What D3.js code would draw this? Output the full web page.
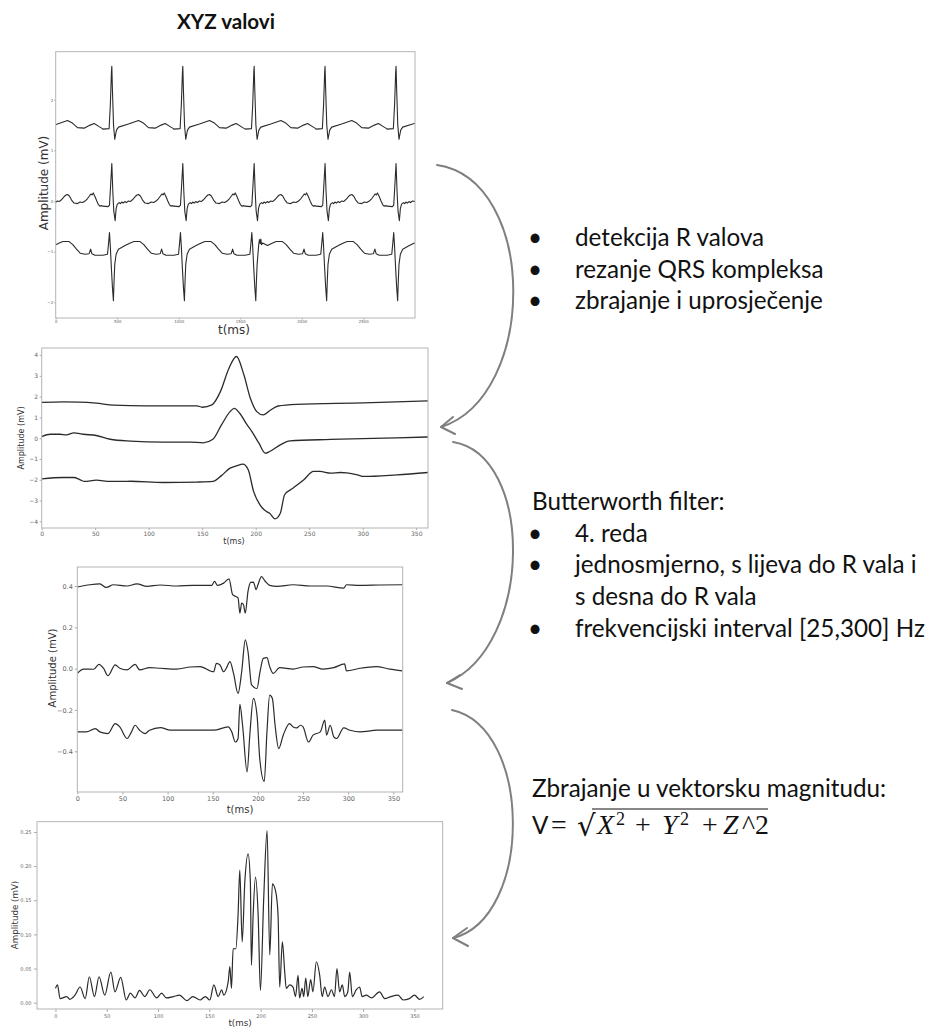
<!DOCTYPE html>
<meta charset="utf-8">
<style>
body { margin: 0; background: #fff; }
svg { display: block; }
.frame { fill: none; stroke: #b3b3b3; stroke-width: 1; }
.trace { fill: none; stroke: #2b2b2b; stroke-width: 1.2; stroke-linejoin: round; }
.tick text { fill: #666; font-family: "DejaVu Sans", sans-serif; }
.tick line { stroke: #aaa; }
.axlabel { font-family: "DejaVu Sans", sans-serif; fill: #333; text-anchor: middle; }
.arrow { fill: none; stroke: #7f7f7f; stroke-width: 2; stroke-linecap: round; stroke-linejoin: round; }
.note { font-family: Lato, "Open Sans", sans-serif; fill: #111; }
.math { font-family: "Liberation Serif", serif; fill: #111; }
</style>
<svg width="934" height="1028"></svg>
<script src="https://d3js.org/d3.v7.min.js"></script>
<script>

// ---------- data (ms, mV) ----------
// panel 1: R-peak times of the raw recording, and one beat per lead
var rPeaks = [-121, 456, 1033, 1613, 2189, 2766];
var beatX = [[-73,1.42],[-22,1.43],[-12,1.9],[-3,2.55],[0,2.66],[5,2.2],[14,1.5],[24,1.22],[30,1.3],[38,1.40],[54,1.46],
  [135,1.52],[217,1.59],[257,1.54],[298,1.45],[352,1.44],[401,1.50],[434,1.53],[474,1.47],[501,1.43]];
var beatY = [[-73,-0.10],[-30,-0.11],[-19,-0.08],[-10,0.30],[0,0.74],[8,0.20],[16,-0.20],[27,-0.39],[35,-0.15],[45,-0.06],
  [60,-0.03],[70,-0.05],[80,-0.02],[92,-0.04],[105,-0.01],[118,-0.03],[135,0.0],[150,-0.01],[165,0.02],[180,0.06],[195,0.10],
  [205,0.12],[217,0.13],[232,0.10],[250,0.02],[270,-0.04],[298,-0.05],[320,-0.02],[340,-0.03],[360,0.0],[380,0.05],[395,0.10],
  [408,0.14],[416,0.12],[426,0.16],[440,0.09],[455,0.0],[468,-0.07],[480,-0.10],[495,-0.09],[501,-0.10]];
var beatZ = [[-73,-1.07],[-35,-1.05],[-27,-0.85],[-19,-0.62],[-12,-0.9],[-4,-1.3],[5,-1.70],[13,-1.97],[18,-1.6],[24,-1.25],
  [35,-1.05],[54,-0.95],[108,-0.88],[150,-0.83],[180,-0.80],[230,-0.80],[260,-0.86],[290,-0.95],[320,-1.03],[360,-1.05],
  [393,-1.04],[405,-0.95],[415,-1.04],[440,-1.07],[501,-1.07]];
var artifactZ = [[1650,-0.86],[1656,-0.76],[1662,-0.84],[1667,-0.75],[1673,-0.86],[1682,-0.83]];

// panel 2: averaged QRS complexes
var avgX = [[0,1.72],[20,1.75],[35,1.74],[51,1.69],[67,1.59],[98,1.56],[145,1.56],[150,1.49],[159,1.60],[167,2.24],[175,3.37],
  [182,3.93],[189,3.04],[195,1.92],[201,1.28],[207,1.12],[214,1.36],[221,1.55],[238,1.63],[301,1.70],[361,1.80]];
var avgY = [[0,0.08],[8,0.19],[17,0.19],[23,0.16],[30,0.26],[39,0.19],[51,0.13],[64,-0.05],[83,-0.14],[114,-0.19],[139,-0.19],
  [151,-0.22],[160,-0.05],[168,0.64],[176,1.28],[180,1.44],[185,1.20],[192,0.64],[196,0.35],[203,-0.24],[209,-0.72],[213,-0.64],
  [223,-0.32],[232,-0.13],[270,-0.06],[332,0.02],[361,0.06]];
var avgZ = [[0,-1.96],[20,-1.89],[30,-1.89],[36,-2.0],[40,-2.08],[51,-2.02],[64,-2.08],[76,-2.08],[83,-2.07],[114,-2.13],[145,-2.11],
  [160,-2.08],[168,-1.80],[176,-1.44],[182,-1.33],[188,-1.25],[193,-1.52],[198,-2.56],[204,-3.21],[210,-3.53],[213,-3.61],
  [218,-3.88],[223,-3.61],[227,-2.72],[235,-2.40],[245,-2.0],[254,-1.60],[260,-1.60],[270,-1.68],[279,-1.65],[285,-1.67],
  [295,-1.76],[301,-1.84],[332,-1.76],[361,-1.65]];

// panel 3: after Butterworth filtering
var filtX = [[0,0.395],[14,0.406],[25,0.41],[32,0.393],[40,0.406],[55,0.40],[66,0.41],[77,0.398],[92,0.405],[110,0.40],[128,0.403],
  [149,0.403],[152,0.423],[155,0.403],[162,0.414],[168,0.435],[172,0.358],[175,0.35],[178,0.342],[180,0.269],[182,0.317],
  [184,0.309],[186,0.269],[189,0.374],[192,0.418],[195,0.419],[198,0.382],[200,0.406],[204,0.445],[208,0.423],[213,0.403],
  [221,0.398],[239,0.406],[258,0.40],[276,0.40],[295,0.39],[298,0.406],[313,0.403],[335,0.405],[360,0.406]];
var filtY = [[0,-0.023],[7,-0.002],[18,-0.003],[24,0.021],[29,0.002],[34,-0.034],[42,0.018],[47,0.002],[55,-0.006],[64,0.021],
  [69,-0.006],[80,0.005],[92,0.002],[110,-0.002],[125,0.008],[136,0.01],[151,-0.015],[154,0.026],[158,0.018],[162,-0.015],
  [165,0.002],[169,0.034],[173,-0.023],[178,-0.12],[182,-0.015],[186,0.139],[189,0.083],[193,-0.079],[199,-0.096],[202,-0.023],
  [206,0.05],[210,0.053],[213,0.01],[217,-0.023],[224,0.005],[239,-0.002],[250,0.008],[261,0.01],[272,-0.002],[284,0.005],
  [296,0.023],[298,-0.011],[313,0.002],[331,0.01],[346,-0.002],[360,-0.011]];
var filtZ = [[0,-0.306],[10,-0.306],[20,-0.29],[25,-0.306],[34,-0.314],[42,-0.266],[47,-0.282],[55,-0.338],[60,-0.306],[64,-0.274],
  [69,-0.298],[75,-0.314],[80,-0.298],[92,-0.285],[103,-0.298],[128,-0.298],[151,-0.298],[167,-0.282],[171,-0.306],[175,-0.355],
  [178,-0.338],[180,-0.173],[183,-0.274],[188,-0.50],[191,-0.322],[195,-0.144],[199,-0.225],[202,-0.435],[207,-0.546],[210,-0.306],
  [213,-0.128],[216,-0.144],[219,-0.274],[223,-0.387],[228,-0.322],[235,-0.266],[239,-0.282],[243,-0.287],[247,-0.274],[250,-0.282],
  [256,-0.355],[261,-0.322],[269,-0.306],[274,-0.249],[276,-0.322],[280,-0.274],[284,-0.33],[287,-0.338],[295,-0.287],[302,-0.298],
  [313,-0.306],[332,-0.298],[360,-0.298]];

// panel 4: vector magnitude
var magV = [[0,0.021],[2,0.026],[4.5,0.006],[11,0.009],[14,0.005],[19,0.011],[24,0.023],[29,0.006],[33,0.038],[38,0.009],[42.5,0.038],
  [48,0.011],[54,0.045],[58,0.016],[63.6,0.037],[69,0.004],[73,0.014],[77.5,0.007],[82,0.018],[87,0.009],[92,0.019],[98.6,0.007],
  [103.5,0.014],[108,0.007],[115,0.009],[121,0.011],[128,0.003],[134,0.009],[141,0.004],[146,0.009],[150.5,0.004],[154.4,0.026],
  [158.6,0.009],[162,0.019],[164,0.011],[168.4,0.031],[170,0.053],[171.6,0.021],[173.2,0.079],[175.8,0.079],[178,0.128],
  [179.7,0.194],[182,0.089],[184.6,0.177],[187.8,0.218],[190,0.177],[191,0.055],[192.7,0.128],[195,0.184],[197.6,0.128],
  [199.8,0.018],[203,0.152],[206.3,0.252],[208.9,0.07],[211.5,0.174],[214.8,0.162],[217,0.128],[218.6,0.023],[221.2,0.089],
  [223.5,0.045],[225,0.021],[228.4,0.026],[231.6,0.023],[234,0.009],[236.5,0.04],[238,0.007],[240.4,0.021],[242,0.009],
  [244,0.036],[246,0.009],[248.8,0.034],[251,0.016],[254.3,0.06],[257.6,0.04],[260,0.009],[262.4,0.023],[265.7,0.009],
  [269,0.019],[272,0.009],[274.4,0.05],[277,0.016],[279.6,0.026],[282,0.009],[285,0.016],[286.8,0.045],[289.4,0.009],
  [293.3,0.019],[296.5,0.023],[299,0.009],[303,0.011],[308,0.007],[316,0.016],[321,0.006],[327,0.009],[334,0.011],
  [339,0.004],[345,0.006],[350,0.011],[355,0.005],[359,0.009]];

// tick values
var ticksRawT = [0, 500, 1000, 1500, 2000, 2500], ticksRawV = [-2, -1, 0, 1, 2];
var ticksQrsT = [0, 50, 100, 150, 200, 250, 300, 350], ticksAvgV = [-4, -3, -2, -1, 0, 1, 2, 3, 4];
var ticksFiltV = [-0.4, -0.2, 0.0, 0.2, 0.4], ticksMagV = [0, 0.05, 0.10, 0.15, 0.20, 0.25];

// text
var titleText = "XYZ valovi";
var stepsA = ["detekcija R valova", "rezanje QRS kompleksa", "zbrajanje i uprosječenje"];
var filterHead = "Butterworth filter:";
var filterItems = [["4. reda"], ["jednosmjerno, s lijeva do R vala i", "s desna do R vala"], ["frekvencijski interval [25,300] Hz"]];
var magHead = "Zbrajanje u vektorsku magnitudu:";

// ---------- build lead series for the raw recording ----------
function buildLead(beat, extra) {
  var pts = [];
  rPeaks.forEach(function(r) { beat.forEach(function(p) { pts.push([r + p[0], p[1]]); }); });
  if (extra) {
    var lo = d3.min(extra, function(d) { return d[0]; }) - 4, hi = d3.max(extra, function(d) { return d[0]; }) + 4;
    pts = pts.filter(function(p) { return p[0] < lo || p[0] > hi; }).concat(extra);
  }
  return pts.sort(function(a, b) { return a[0] - b[0]; });
}

var svg = d3.select("svg");

var panels = [
  { id: "p1", box: [55.7, 51.7, 359.3, 266.3], xd: [0, 2920], yd: [-2.31, 2.95],
    xt: ticksRawT, yt: ticksRawV, fmtX: d3.format("d"), fmtY: d3.format("d"),
    tickFont: 4, tickSize: 1.5, pad: 1, labFont: 12, xl: [234, 334], yl: [44, 183],
    series: [buildLead(beatX), buildLead(beatY), buildLead(beatZ, artifactZ)], curve: d3.curveLinear, sw: 1.1 },
  { id: "p2", box: [41.7, 348, 386.3, 180], xd: [0, 361], yd: [-4.32, 4.34],
    xt: ticksQrsT, yt: ticksAvgV, fmtX: d3.format("d"), fmtY: d3.format("d"),
    tickFont: 6, tickSize: 2, pad: 1.5, labFont: 8, xl: [234, 544], yl: [21, 438],
    series: [avgX, avgY, avgZ], curve: d3.curveMonotoneX, sw: 1.3 },
  { id: "p3", box: [77.3, 567, 325.4, 225], xd: [0, 360.3], yd: [-0.597, 0.492],
    xt: ticksQrsT, yt: ticksFiltV, fmtX: d3.format("d"), fmtY: d3.format(".1f"),
    tickFont: 6.5, tickSize: 2.5, pad: 2, labFont: 10, xl: [240, 813], yl: [52, 668],
    series: [filtX, filtY, filtZ], curve: d3.curveMonotoneX, sw: 1.2 },
  { id: "p4", box: [37, 821.7, 405.7, 187.3], xd: [-18, 377.5], yd: [-0.0092, 0.265],
    xt: ticksQrsT, yt: ticksMagV, fmtX: d3.format("d"), fmtY: d3.format(".2f"),
    tickFont: 5, tickSize: 3, pad: 2.5, labFont: 8.7, xl: [240, 1026], yl: [15, 915],
    series: [magV], curve: d3.curveMonotoneX, sw: 1.2 }
];

panels.forEach(function(p) {
  var bx = p.box[0], by = p.box[1], bw = p.box[2], bh = p.box[3];
  var x = d3.scaleLinear().domain(p.xd).range([bx, bx + bw]);
  var y = d3.scaleLinear().domain(p.yd).range([by + bh, by]);

  svg.append("clipPath").attr("id", "clip-" + p.id)
    .append("rect").attr("x", bx).attr("y", by).attr("width", bw).attr("height", bh);

  var line = d3.line().curve(p.curve)
    .x(function(d) { return x(d[0]); })
    .y(function(d) { return y(d[1]); });

  svg.append("g").attr("clip-path", "url(#clip-" + p.id + ")")
    .selectAll("path").data(p.series).enter().append("path")
      .attr("class", "trace").style("stroke-width", p.sw)
      .attr("d", line);

  var gx = svg.append("g").attr("transform", "translate(0," + (by + bh) + ")")
    .call(d3.axisBottom(x).tickValues(p.xt).tickFormat(p.fmtX).tickSize(p.tickSize).tickPadding(p.pad));
  var gy = svg.append("g").attr("transform", "translate(" + bx + ",0)")
    .call(d3.axisLeft(y).tickValues(p.yt).tickFormat(p.fmtY).tickSize(p.tickSize).tickPadding(p.pad));
  [gx, gy].forEach(function(g) {
    g.select(".domain").remove();
    g.selectAll("text").style("font-size", p.tickFont + "px");
    g.attr("font-family", null).attr("font-size", null);
  });

  svg.append("rect").attr("class", "frame")
    .attr("x", bx).attr("y", by).attr("width", bw).attr("height", bh);

  svg.append("text").attr("class", "axlabel")
    .attr("x", p.xl[0]).attr("y", p.xl[1])
    .style("font-size", p.labFont + "px").text("t(ms)");
  svg.append("text").attr("class", "axlabel")
    .attr("transform", "translate(" + p.yl[0] + "," + p.yl[1] + ") rotate(-90)")
    .attr("dy", "0.35em")
    .style("font-size", p.labFont + "px").text("Amplitude (mV)");
});

// ---------- title ----------
var title = svg.append("text").attr("class", "note")
  .attr("x", 226).attr("y", 29).attr("text-anchor", "middle")
  .style("font-weight", "bold").style("font-size", "17px").text(titleText);
title.style("font-size", (17 * 98 / title.node().getComputedTextLength()) + "px");

// ---------- arrows ----------
var arrows = [
  { d: "M437,165 C538,180 538,396 441,427", head: "M453,417 L441,427 L455,434" },
  { d: "M453,442 C534,455 534,645 447,683", head: "M460,675 L447,683 L462,689" },
  { d: "M452,710 C533,728 533,918 453,938", head: "M467,928 L453,938 L468,946" }
];
svg.selectAll("path.arrow-line").data(arrows).enter().append("path")
  .attr("class", "arrow").attr("d", function(d) { return d.d; });
svg.selectAll("path.arrow-head").data(arrows).enter().append("path")
  .attr("class", "arrow").attr("d", function(d) { return d.head; });

// ---------- notes ----------
// size the notes so the widest line keeps the reference width
var probe = svg.append("text").attr("class", "note").style("font-size", "20px").text(filterItems[2][0]);
var noteSize = 20 * 350 / probe.node().getComputedTextLength();
probe.remove();

function note(txt, xPos, yPos) {
  return svg.append("text").attr("class", "note").attr("x", xPos).attr("y", yPos)
    .style("font-size", noteSize + "px").text(txt);
}
function bullet(yPos) {
  return svg.append("text").attr("class", "note").attr("x", 535).attr("y", yPos)
    .attr("text-anchor", "middle").style("font-size", noteSize + "px").text("•");
}

var lineH = 31.7;
stepsA.forEach(function(s, i) { bullet(246 + i * lineH); note(s, 575, 246 + i * lineH); });

note(filterHead, 532, 510);
var row = 1;
filterItems.forEach(function(item) {
  bullet(510 + row * lineH);
  item.forEach(function(s) { note(s, 575, 510 + row * lineH); row++; });
});

note(magHead, 532, 797);

// formula  V = sqrt(X^2 + Y^2 + Z^2)
var fy = 834, mSize = noteSize * 1.15;
note("V", 532, fy);
svg.append("text").attr("class", "math").attr("x", 551).attr("y", fy).style("font-size", mSize + "px").text("=");
svg.append("text").attr("class", "math").attr("x", 577).attr("y", fy + 2).style("font-family", "DejaVu Sans")
  .style("font-size", (mSize * 1.05) + "px").text("√");
svg.append("line").attr("x1", 592).attr("x2", 768).attr("y1", 809).attr("y2", 809)
  .style("stroke", "#111").style("stroke-width", 1.2);
var mathParts = [
  { t: "X", x: 597, it: true }, { t: "2", x: 616, sup: true }, { t: "+", x: 635 },
  { t: "Y", x: 662, it: true }, { t: "2", x: 680, sup: true }, { t: "+", x: 702 },
  { t: "Z", x: 723, it: true }, { t: "^", x: 742 }, { t: "2", x: 755 }
];
mathParts.forEach(function(m) {
  svg.append("text").attr("class", "math")
    .attr("x", m.x).attr("y", m.sup ? fy - 9 : fy)
    .style("font-style", m.it ? "italic" : "normal")
    .style("font-size", (m.sup ? mSize * 0.65 : mSize) + "px")
    .text(m.t);
});

</script>
